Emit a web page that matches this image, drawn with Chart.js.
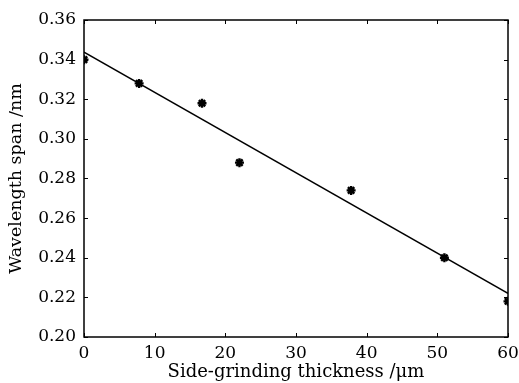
<!DOCTYPE html>
<html>
<head>
<meta charset="utf-8">
<script src="https://cdn.jsdelivr.net/npm/chart.js@4/dist/chart.umd.min.js"></script>
<style>
  html, body { margin: 0; background: #fff; }
  #wrap { width: 519px; height: 383px; }
</style>
</head>
<body>
<div id="wrap"><canvas id="chart"></canvas></div>
<script>
// measured points
const thickness = [0, 7.8, 16.7, 22, 37.8, 51, 60];
const span = [0.340, 0.328, 0.318, 0.288, 0.274, 0.240, 0.218];
// linear fit line
const fitX = [0, 60];
const fitY = [0.3438, 0.222];
const xTicks = [0, 10, 20, 30, 40, 50, 60];
const yTicks = [0.20, 0.22, 0.24, 0.26, 0.28, 0.30, 0.32, 0.34, 0.36];

const font = 'DejaVu Serif';

// box around the plot with inward ticks on every side
const boxTicks = {
  id: 'boxTicks',
  afterDraw(chart) {
    const { ctx, chartArea: a, scales } = chart;
    const len = 4;
    ctx.save();
    ctx.strokeStyle = '#000';
    ctx.lineWidth = 1;
    ctx.beginPath();
    xTicks.forEach(v => {
      const x = Math.round(scales.x.getPixelForValue(v)) + 0.5;
      ctx.moveTo(x, a.bottom); ctx.lineTo(x, a.bottom - len);
      ctx.moveTo(x, a.top); ctx.lineTo(x, a.top + len);
    });
    yTicks.forEach(v => {
      const y = Math.round(scales.y.getPixelForValue(v)) + 0.5;
      ctx.moveTo(a.left, y); ctx.lineTo(a.left + len, y);
      ctx.moveTo(a.right, y); ctx.lineTo(a.right - len, y);
    });
    ctx.stroke();
    ctx.lineWidth = 1.5;
    ctx.strokeRect(a.left, a.top, a.right - a.left, a.bottom - a.top);
    ctx.restore();
  }
};

new Chart(document.getElementById('chart'), {
  type: 'scatter',
  data: {
    datasets: [
      {
        label: 'Fit',
        data: fitX.map((x, i) => ({ x, y: fitY[i] })),
        showLine: true,
        borderColor: '#000',
        borderWidth: 1.6,
        pointRadius: 0,
        order: 2
      },
      {
        label: 'Measured',
        data: thickness.map((x, i) => ({ x, y: span[i] })),
        pointStyle: 'star',
        pointRadius: 4.5,
        borderColor: '#000',
        backgroundColor: '#000',
        borderWidth: 2.4,
        order: 1
      }
    ]
  },
  options: {
    responsive: true,
    maintainAspectRatio: false,
    animation: false,
    layout: { padding: { top: 20, right: 11, left: 0, bottom: 0 } },
    plugins: { legend: { display: false }, tooltip: { enabled: false } },
    scales: {
      x: {
        type: 'linear', min: 0, max: 60,
        afterBuildTicks: s => { s.ticks = xTicks.map(value => ({ value })); },
        afterFit: s => { s.height = 46; s.paddingRight = 0; s.paddingLeft = 0; },
        grid: { display: false, drawTicks: false },
        border: { display: false },
        ticks: { color: '#000', padding: 6, font: { family: font, size: 17 } },
        title: {
          display: true, text: 'Side-grinding thickness /μm', color: '#000',
          font: { family: font, size: 18 }, padding: { top: 0, bottom: 0 }
        }
      },
      y: {
        type: 'linear', min: 0.2, max: 0.36,
        afterBuildTicks: s => { s.ticks = yTicks.map(value => ({ value })); },
        afterFit: s => { s.width = 84; s.paddingTop = 0; s.paddingBottom = 0; },
        grid: { display: false, drawTicks: false },
        border: { display: false },
        ticks: {
          color: '#000', padding: 8, font: { family: font, size: 17 },
          callback: v => v.toFixed(2)
        },
        title: {
          display: true, text: 'Wavelength span /nm', color: '#000',
          font: { family: font, size: 17.5 }, padding: { top: 6, bottom: 0 }
        }
      }
    }
  },
  plugins: [boxTicks]
});
</script>
</body>
</html>
